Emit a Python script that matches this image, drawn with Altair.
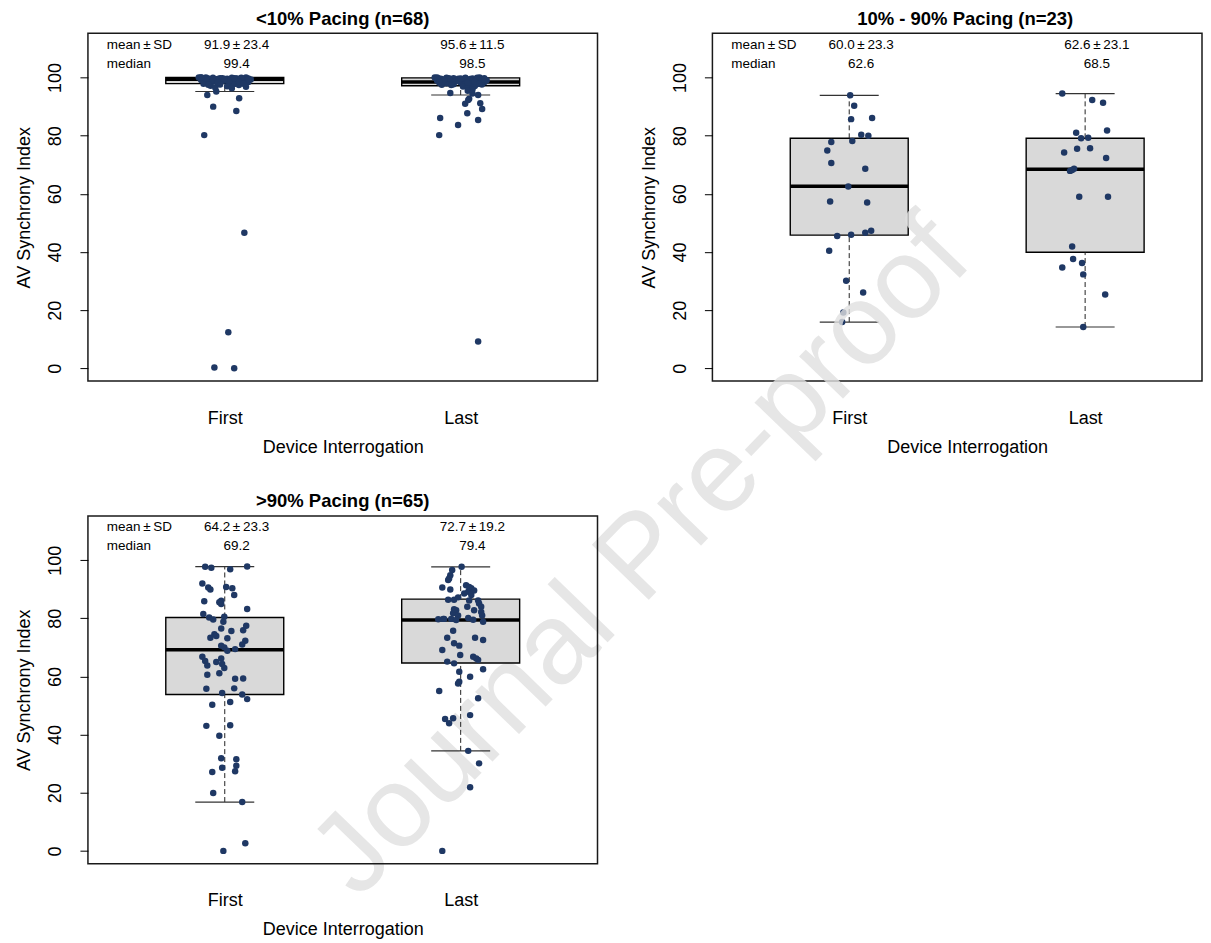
import altair as alt
import pandas as pd

# ---------------- data ----------------
TITLES = ["<10% Pacing (n=68)", "10% - 90% Pacing (n=23)", ">90% Pacing (n=65)"]
GROUP_LABELS = ["First", "Last"]
Y_TICKS = [0, 20, 40, 60, 80, 100]

# panel A (<10% pacing)
A_FIRST_V = [94.0, 95.2, 92.9, 90.0, 88.5, 80.2, 46.6, 12.4, 0.3, 0.0,
             100, 100, 100, 99.9, 99.9, 99.8, 99.8, 99.7, 99.7, 99.6,
             99.6, 99.5, 99.5, 99.5, 99.4, 99.4, 99.4, 99.3, 99.3, 99.2,
             99.2, 99.1, 99.0, 99.0, 98.9, 98.8, 98.7, 98.6, 98.5, 98.4,
             98.3, 98.2, 98.1, 98.0, 97.9, 97.8, 97.6, 97.4, 97.2, 97.0,
             96.8, 96.5, 96.3, 100, 99.9, 99.8, 99.7, 99.6, 99.3, 99.1,
             98.9, 98.6, 98.3, 97.9, 97.5, 99.8, 100, 99.5]
A_FIRST_J = [-0.074, -0.036, 0.061, -0.049, 0.049, -0.087, 0.083, 0.015, -0.044, 0.040,
             -0.10, -0.08, 0.09, -0.05, 0.03, 0.07, -0.02, 0.10, -0.07, 0.01,
             0.05, -0.09, 0.04, -0.03, 0.08, -0.06, 0.02, 0.11, -0.04, 0.06,
             -0.10, 0.00, 0.09, -0.08, 0.03, -0.01, 0.07, -0.05, 0.10, -0.03,
             0.05, -0.07, 0.02, 0.08, -0.09, 0.04, -0.02, 0.06, -0.06, 0.01,
             0.09, -0.04, 0.03, -0.11, 0.07, -0.01, 0.05, -0.08, 0.10, -0.05,
             0.02, 0.06, -0.03, 0.08, -0.07, 0.04, -0.10, 0.00]
A_LAST_V = [94.7, 94.0, 92.7, 91.2, 89.2, 91.0, 92.3, 87.7, 86.1, 85.4, 83.7, 80.2, 9.2,
            100, 100, 99.9, 99.9, 99.8, 99.8, 99.7, 99.7, 99.6, 99.6,
            99.5, 99.5, 99.4, 99.3, 99.2, 99.1, 99.0, 98.9, 98.8, 98.7,
            98.6, 98.5, 98.5, 98.4, 98.3, 98.2, 98.1, 98.0, 97.9, 97.8,
            97.7, 97.6, 97.5, 97.3, 97.1, 96.9, 96.5, 96.0, 95.5, 94.5,
            100, 99.9, 99.8, 99.6, 99.4, 99.2, 99.0, 98.8, 98.6, 98.4,
            98.2, 97.9, 97.4, 99.7, 99.3]
A_LAST_J = [-0.044, 0.074, 0.036, 0.083, 0.091, 0.019, 0.032, 0.028, -0.087, 0.074, -0.011, -0.091, 0.074,
            0.08, -0.11, 0.02, -0.06, 0.10, -0.03, 0.05, -0.09, 0.07, -0.01,
            0.04, -0.08, 0.09, -0.05, 0.01, 0.11, -0.10, 0.06, -0.02, 0.03,
            -0.07, 0.08, -0.04, 0.10, 0.00, -0.09, 0.05, -0.06, 0.02, 0.07,
            -0.03, 0.09, -0.08, 0.04, 0.06, 0.01, 0.03, 0.05, 0.03, 0.05,
            -0.10, 0.07, -0.05, 0.02, 0.09, -0.07, 0.04, -0.01, 0.06, -0.09,
            0.03, 0.08, -0.04, 0.00, 0.10]

# panel B (10%-90% pacing)
B_FIRST_V = [93.9, 90.3, 85.7, 86.1, 80.3, 80.0, 77.8, 78.2, 74.9, 70.6, 68.6, 62.5,
             57.4, 57.0, 45.5, 45.9, 46.6, 47.3, 40.4, 30.1, 26.1, 19.2, 15.9]
B_FIRST_J = [0.004, 0.021, 0.008, 0.097, 0.051, 0.081, -0.076, 0.013, -0.093, -0.076, 0.068, -0.004,
             -0.081, 0.076, -0.051, 0.008, 0.068, 0.093, -0.085, -0.013, 0.059, -0.025, -0.030]
B_LAST_V = [94.5, 92.3, 91.3, 81.8, 81.0, 79.1, 79.3, 74.2, 75.5, 75.7, 72.3, 67.9,
            68.6, 68.2, 59.0, 59.0, 41.9, 37.6, 36.2, 34.7, 32.3, 25.4, 14.2]
B_LAST_J = [-0.097, 0.030, 0.076, 0.093, -0.038, -0.017, 0.013, -0.089, -0.034, 0.021, 0.089, -0.064,
            -0.047, -0.055, -0.025, 0.097, -0.055, -0.051, -0.013, -0.097, -0.008, 0.085, -0.008]

# panel C (>90% pacing)
C_FIRST_V = [97.7, 97.4, 96.9, 97.8, 92.0, 90.6, 89.9, 90.8, 90.3, 88.0,
             85.9, 86.0, 84.9, 83.2, 81.5, 80.3, 79.6, 80.5, 78.8, 76.5,
             77.4, 75.9, 75.6, 74.5, 73.3, 73.1, 72.3, 71.0, 70.6, 70.0,
             68.8, 69.4, 66.8, 65.3, 65.0, 66.2, 64.3, 63.8, 62.9, 61.1,
             60.6, 59.2, 59.3, 55.8, 54.3, 55.9, 53.8, 52.2, 50.3, 51.2,
             43.0, 43.2, 39.6, 31.9, 31.5, 29.3, 28.6, 27.1, 27.4, 19.9,
             16.8, 2.6, 0.0, 85.5, 73.9]
C_FIRST_J = [-0.083, -0.057, 0.023, 0.095, -0.095, -0.070, -0.061, 0.006, 0.032, 0.040,
             -0.087, -0.015, -0.015, 0.095, -0.091, -0.066, -0.049, -0.002, -0.006, -0.015,
             0.091, 0.078, 0.028, -0.044, -0.061, 0.011, 0.087, 0.074, -0.015, -0.002,
             0.011, 0.044, -0.095, -0.083, -0.036, -0.015, -0.011, -0.074, -0.002, -0.023,
             -0.074, 0.044, 0.078, -0.078, -0.011, 0.040, 0.074, 0.095, -0.053, 0.023,
             -0.078, 0.023, -0.023, -0.015, 0.049, 0.049, -0.011, -0.053, 0.044, -0.049,
             0.074, 0.087, -0.006, -0.023, -0.036]
C_LAST_V = [97.7, 96.6, 94.8, 93.7, 93.2, 90.6, 89.9, 91.4, 90.3, 89.6,
            89.1, 88.0, 86.4, 86.4, 86.1, 86.1, 85.1, 84.0, 84.0, 82.8,
            82.2, 81.7, 81.0, 81.0, 79.7, 79.8, 79.8, 79.4, 80.1, 78.8,
            75.7, 73.3, 73.3, 72.5, 71.4, 70.6, 69.1, 67.4, 65.1, 64.5,
            66.8, 66.2, 65.7, 62.5, 61.6, 59.9, 58.2, 57.6, 55.0, 52.5,
            46.7, 45.4, 43.9, 45.6, 34.4, 30.1, 21.9, 0.0, 83.1, 87.2,
            79.5, 88.5, 79.8, 82.8, 90.8]
C_LAST_J = [0.004, -0.036, -0.044, -0.049, -0.053, -0.078, -0.044, 0.023, 0.045, 0.057,
            0.032, 0.045, -0.053, -0.028, 0.036, 0.074, 0.078, 0.028, 0.087, -0.019,
            0.087, -0.032, -0.011, 0.091, -0.095, -0.074, -0.040, -0.019, 0.032, 0.095,
            -0.032, -0.057, 0.061, 0.095, -0.028, -0.006, -0.078, -0.002, -0.057, -0.028,
            0.053, 0.066, 0.074, 0.095, -0.006, 0.040, -0.006, -0.011, -0.091, 0.074,
            0.040, -0.066, -0.049, -0.032, 0.032, 0.078, 0.040, -0.078, -0.028, -0.011,
            0.053, 0.015, -0.070, 0.057, 0.036]

# box statistics per panel: [First, Last]
A_Q1 = [97.9, 97.2]; A_MED = [99.4, 98.5]; A_Q3 = [100.0, 99.9]; A_WLO = [95.2, 94.0]; A_WHI = [100.0, 100.0]
B_Q1 = [45.8, 39.9]; B_MED = [62.6, 68.5]; B_Q3 = [79.1, 79.1]; B_WLO = [15.9, 14.2]; B_WHI = [93.9, 94.5]
C_Q1 = [53.8, 64.6]; C_MED = [69.2, 79.4]; C_Q3 = [80.3, 86.6]; C_WLO = [16.8, 34.4]; C_WHI = [97.8, 97.7]

A_MEANSD = ["91.9\u2009±\u200923.4", "95.6\u2009±\u200911.5"]; A_MEDTXT = ["99.4", "98.5"]
B_MEANSD = ["60.0\u2009±\u200923.3", "62.6\u2009±\u200923.1"]; B_MEDTXT = ["62.6", "68.5"]
C_MEANSD = ["64.2\u2009±\u200923.3", "72.7\u2009±\u200919.2"]; C_MEDTXT = ["69.2", "79.4"]
LABEL_MEANSD = "mean\u2009±\u2009SD"
LABEL_MEDIAN = "median"

WATERMARK = "Journal Pre-proof"

# ---------------- styling / layout constants ----------------
FONT = "Liberation Sans"
NAVY = "#1f3864"
BOXFILL = "#d9d9d9"
Y_DOMAIN = [-4.4, 115.2]
X_MIN = 0.42
PANEL_H = 348
HALF_BOX = 0.25
HALF_CAP = 0.125
TEXT_DX = 0.05
Y_LINE1 = 111.3
Y_LINE2 = 104.7
LABEL_X = 0.5


def panel(title, fv, fj, lv, lj, q1, med, q3, wlo, whi, msd, mdn,
          width, xmax, title_dx=0, watermark=False):
    pts = pd.DataFrame({
        "group": [1] * len(fv) + [2] * len(lv),
        "v": fv + lv,
        "jit": fj + lj,
    })
    box = pd.DataFrame({
        "group": [1, 2], "q1": q1, "med": med, "q3": q3,
        "wlo": wlo, "whi": whi, "msd": msd, "mdn": mdn,
    })
    xs = alt.Scale(domain=[X_MIN, xmax], nice=False, zero=False)
    ys = alt.Scale(domain=Y_DOMAIN, nice=False, zero=False)
    xaxis = alt.Axis(values=[1, 2],
                     labelExpr=f"datum.value == 1 ? '{GROUP_LABELS[0]}' : '{GROUP_LABELS[1]}'",
                     ticks=False, tickSize=0, domain=False, grid=False,
                     labelPadding=28, titlePadding=11, labelAngle=0, labelFlush=False,
                     title="Device Interrogation", titleX=255)
    yaxis = alt.Axis(values=Y_TICKS, tickSize=8, domain=False, grid=False,
                     labelAngle=270, labelAlign="center", labelBaseline="bottom",
                     labelPadding=15, titlePadding=13, title="AV Synchrony Index")

    bb = alt.Chart(box).transform_calculate(
        xl=f"datum.group - {HALF_BOX}", xr=f"datum.group + {HALF_BOX}",
        cl=f"datum.group - {HALF_CAP}", cr=f"datum.group + {HALF_CAP}",
        xt=f"datum.group + {TEXT_DX}", y1=f"{Y_LINE1}", y2=f"{Y_LINE2}",
        lx=f"{LABEL_X}")

    def X(f):
        return alt.X(f, scale=xs, axis=xaxis)

    def Y(f):
        return alt.Y(f, scale=ys, axis=yaxis)

    rect = bb.mark_rect(fill=BOXFILL, stroke="black", strokeWidth=1.4).encode(
        x=X("xl:Q"), x2="xr:Q", y=Y("q1:Q"), y2="q3:Q")
    wup = bb.mark_rule(color="#222222", strokeDash=[5, 3], strokeWidth=1).encode(
        x=X("group:Q"), y=Y("q3:Q"), y2="whi:Q")
    wdn = bb.mark_rule(color="#222222", strokeDash=[5, 3], strokeWidth=1).encode(
        x=X("group:Q"), y=Y("wlo:Q"), y2="q1:Q")
    cup = bb.mark_rule(color="#333333", strokeWidth=1.2).encode(
        x=X("cl:Q"), x2="cr:Q", y=Y("whi:Q"))
    cdn = bb.mark_rule(color="#333333", strokeWidth=1.2).encode(
        x=X("cl:Q"), x2="cr:Q", y=Y("wlo:Q"))
    medl = bb.mark_rule(color="black", strokeWidth=3.5).encode(
        x=X("xl:Q"), x2="xr:Q", y=Y("med:Q"))
    points = alt.Chart(pts).transform_calculate(xj="datum.group + datum.jit").mark_circle(
        size=42, color=NAVY, opacity=1).encode(x=X("xj:Q"), y=Y("v:Q"))
    t1 = bb.mark_text(font=FONT, fontSize=13.5, color="black").encode(
        x=X("xt:Q"), y=Y("y1:Q"), text="msd:N")
    t2 = bb.mark_text(font=FONT, fontSize=13.5, color="black").encode(
        x=X("xt:Q"), y=Y("y2:Q"), text="mdn:N")
    l1 = bb.transform_filter("datum.group == 1").mark_text(
        font=FONT, fontSize=13.5, color="black", align="left", text=LABEL_MEANSD).encode(
        x=X("lx:Q"), y=Y("y1:Q"))
    l2 = bb.transform_filter("datum.group == 1").mark_text(
        font=FONT, fontSize=13.5, color="black", align="left", text=LABEL_MEDIAN).encode(
        x=X("lx:Q"), y=Y("y2:Q"))
    layers = [rect, wup, wdn, cup, cdn, medl, points, t1, t2, l1, l2]
    if watermark:
        # watermark lives in the top-right panel; it spreads down and left over the figure
        wm = alt.Chart(pd.DataFrame({"w": [WATERMARK]})).mark_text(
            font=FONT, fontSize=115, angle=314, color="#e0e0e0", opacity=0.8,
            align="center", baseline="middle").encode(
            text="w:N", x=alt.value(-71), y=alt.value(524))
        layers.append(wm)
    return alt.layer(*layers).properties(
        width=width, height=PANEL_H,
        title=alt.TitleParams(title, dx=title_dx, frame="group"))


pa = panel(TITLES[0], A_FIRST_V, A_FIRST_J, A_LAST_V, A_LAST_J,
           A_Q1, A_MED, A_Q3, A_WLO, A_WHI, A_MEANSD, A_MEDTXT, 510, 2.58)
pb = panel(TITLES[1], B_FIRST_V, B_FIRST_J, B_LAST_V, B_LAST_J,
           B_Q1, B_MED, B_Q3, B_WLO, B_WHI, B_MEANSD, B_MEDTXT, 490, X_MIN + 490 / 236.1,
           title_dx=8, watermark=True)
pc = panel(TITLES[2], C_FIRST_V, C_FIRST_J, C_LAST_V, C_LAST_J,
           C_Q1, C_MED, C_Q3, C_WLO, C_WHI, C_MEANSD, C_MEDTXT, 510, 2.58)

chart = alt.concat(
    pa, pb, pc, columns=2, spacing={"row": 135, "column": 115}, bounds="flush"
).properties(
    padding={"left": 7, "top": 0, "right": 0, "bottom": 0}
).configure_view(
    stroke="#1a1a1a", strokeWidth=1.5
).configure_axis(
    labelFont=FONT, titleFont=FONT, labelFontSize=18, titleFontSize=18,
    labelColor="black", titleColor="black", tickColor="black",
    titleFontWeight="normal"
).configure_title(
    font=FONT, fontSize=18.5, fontWeight="bold", color="black",
    anchor="middle", offset=5, baseline="alphabetic"
)

chart.save("out.html", embed_options={"renderer": "svg", "actions": False})
